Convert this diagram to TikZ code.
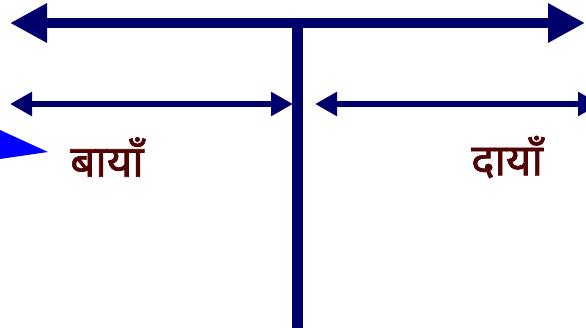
\documentclass[tikz,border=0pt]{standalone}
\usepackage{fontspec}
\newfontfamily\deva[Script=Devanagari, FakeBold=1.6]{Noto Sans}
\usetikzlibrary{arrows.meta, positioning}
\definecolor{barnavy}{RGB}{0,0,108}
\definecolor{labelred}{RGB}{80,5,5}
\definecolor{pointblue}{RGB}{0,0,255}

\begin{document}
\begin{tikzpicture}[
			x=1pt, y=-1pt,
			bigbar/.style={
				draw=barnavy,
				line width=10.5pt,
				{Triangle[length=37pt, width=37pt]}-{Triangle[length=37pt, width=37pt]}
			},
			smallbar/.style={
				draw=barnavy,
				line width=6pt,
				{Triangle[length=22pt, width=23pt]}-{Triangle[length=22pt, width=23pt]}
			},
			side/.style={
				font=\deva\fontsize{44}{47}\selectfont,
				text=labelred,
				inner sep=0pt
			}
			]
			
			% Frame of the picture
			\useasboundingbox (0,0) rectangle (586,327);
			\clip (0,0) rectangle (586,327);
			
			% Top bar
			\coordinate (topL) at (10,23);
			\coordinate (topR) at (585,23);
			\coordinate (topM) at (297,23);
			\coordinate (foot) at (297,335);
			\draw[bigbar] (topL) -- (topR);
			
			% Stem
			\draw[draw=barnavy, line width=11pt] (topM) -- (foot);
			
			% Left and right bars
			\coordinate (leftA) at (10,104);
			\coordinate (leftB) at (293,104);
			\coordinate (rightA) at (315,104);
			\coordinate (rightB) at (600,104);
			\draw[smallbar] (leftA) -- (leftB);
			\draw[smallbar] (rightA) -- (rightB);
			
			% Pointer
			\fill[pointblue] (0,130) -- (48,152) -- (0,159) -- cycle;
			
			% Labels
			\node[side] (baayaan) at (107,157) {बायाँ};
			\node[side] (daayaan) at (507,157) {दायाँ};
			
		\end{tikzpicture}
\end{document}
